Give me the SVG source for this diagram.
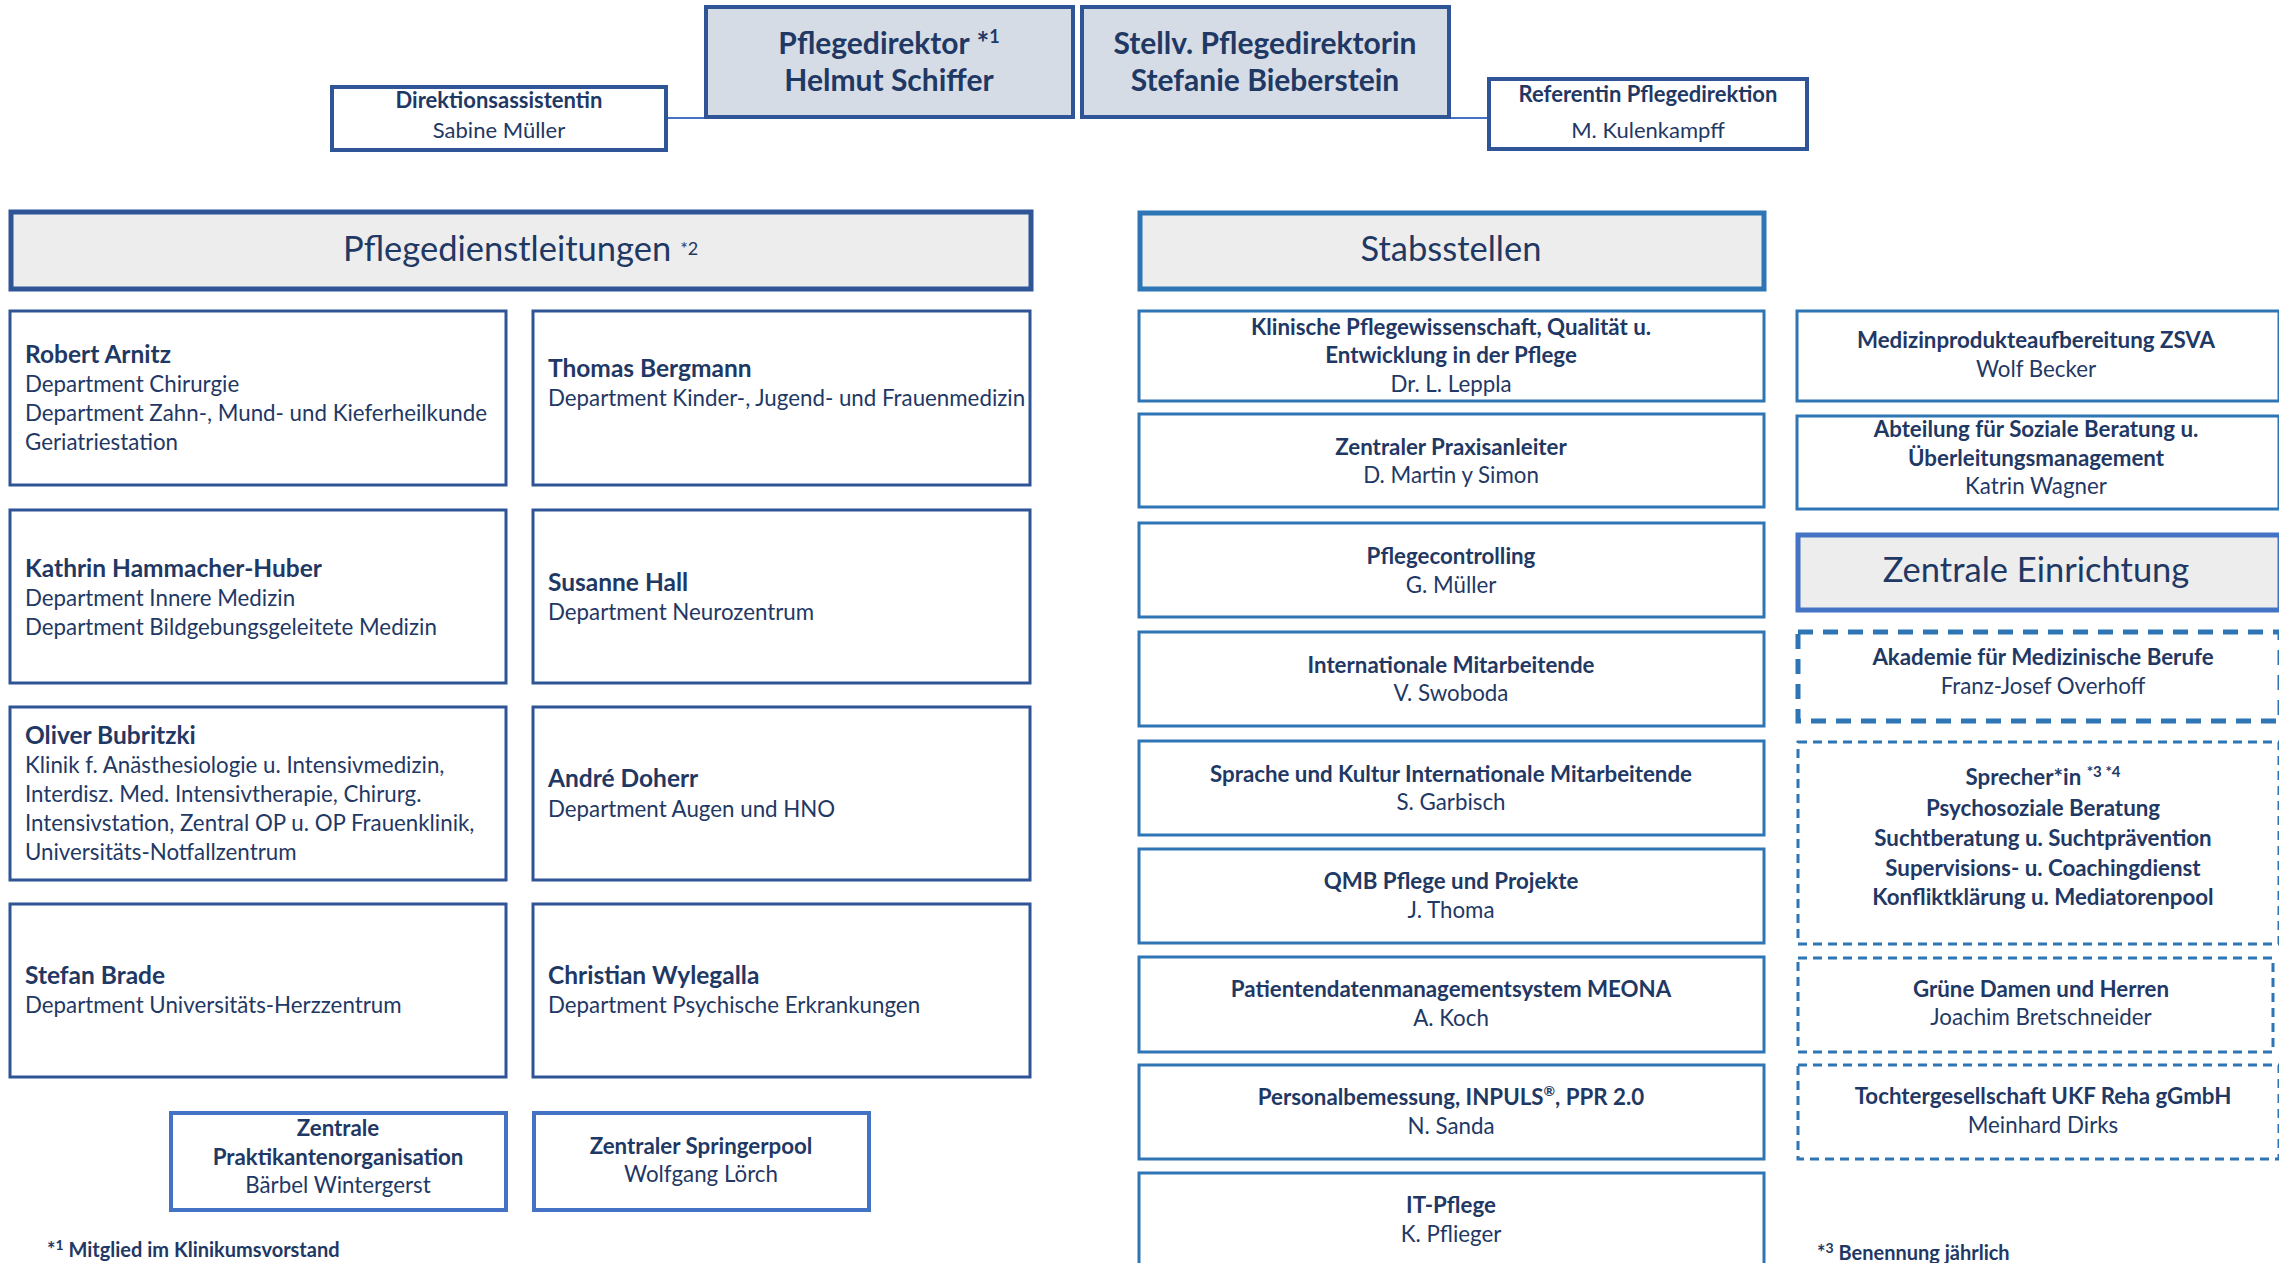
<svg xmlns="http://www.w3.org/2000/svg" width="2279" height="1263" viewBox="0 0 2279 1263">
<style>
text{font-family:Lato,"Noto Sans","Liberation Sans",sans-serif;fill:#1F3864}
.b{font-weight:700}
.t{font-size:22.3px}
.n{font-size:24.5px;font-weight:700}
.c{text-anchor:middle}
.dir{fill:#D6DCE5;stroke:#2F5597;stroke-width:4}
.side{fill:#fff;stroke:#2F5597;stroke-width:4}
.hdr{fill:#EDEDED;stroke:#2F5597;stroke-width:5}
.hdr2{fill:#EDEDED;stroke:#2E75B6;stroke-width:5}
.hdr3{fill:#EDEDED;stroke:#4472C4;stroke-width:5}
.pdl{fill:#fff;stroke:#2F5597;stroke-width:3}
.stab{fill:#fff;stroke:#2E75B6;stroke-width:3}
.bot{fill:#fff;stroke:#4472C4;stroke-width:4}
.d1{fill:#fff;stroke:#2E75B6;stroke-width:5;stroke-dasharray:15 10}
.d2{fill:#fff;stroke:#2E75B6;stroke-width:3;stroke-dasharray:9 6}
.big{font-size:30px}
.h{font-size:34.5px}
.sm{font-size:22px}
.fn{font-size:20px}
.con{stroke:#4472C4;stroke-width:2;fill:none}
</style>

<g id="connectors">
<line class="con" x1="667" y1="118" x2="705" y2="118"/>
<line class="con" x1="1450" y1="118" x2="1488" y2="118"/>
</g>

<g id="pflegedirektor">
<rect class="dir" x="706" y="7" width="367" height="110"/>
<text class="b big c" x="889" y="54">Pflegedirektor *<tspan font-size="18" dy="-11">1</tspan></text>
<text class="b big c" x="889" y="91">Helmut Schiffer</text>
</g>
<g id="stellv">
<rect class="dir" x="1082" y="7" width="367" height="110"/>
<text class="b big c" x="1265" y="54">Stellv. Pflegedirektorin</text>
<text class="b big c" x="1265" y="91">Stefanie Bieberstein</text>
</g>
<g id="direktionsassistentin">
<rect class="side" x="332" y="87" width="334" height="63"/>
<text class="b sm c" x="499" y="108">Direktionsassistentin</text>
<text class="sm c" x="499" y="138">Sabine Müller</text>
</g>
<g id="referentin">
<rect class="side" x="1489" y="79" width="318" height="70"/>
<text class="b sm c" x="1648" y="102">Referentin Pflegedirektion</text>
<text class="sm c" x="1648" y="138">M. Kulenkampff</text>
</g>

<g id="pflegedienstleitungen">
<rect class="hdr" x="11" y="212" width="1020" height="77"/>
<text class="h" x="343" y="261">Pflegedienstleitungen<tspan font-size="18" dx="9" dy="-6">*2</tspan></text>
</g>

<g id="arnitz">
<rect class="pdl" x="10" y="311" width="496" height="174"/>
<text class="t" x="25" y="363"><tspan class="n">Robert Arnitz</tspan><tspan x="25" dy="29">Department Chirurgie</tspan><tspan x="25" dy="29">Department Zahn-, Mund- und Kieferheilkunde</tspan><tspan x="25" dy="29">Geriatriestation</tspan></text>
</g>
<g id="bergmann">
<rect class="pdl" x="533" y="311" width="497" height="174"/>
<text class="t" x="548" y="377"><tspan class="n">Thomas Bergmann</tspan><tspan x="548" dy="29">Department Kinder-, Jugend- und Frauenmedizin</tspan></text>
</g>
<g id="hammacher">
<rect class="pdl" x="10" y="510" width="496" height="173"/>
<text class="t" x="25" y="577"><tspan class="n">Kathrin Hammacher-Huber</tspan><tspan x="25" dy="29">Department Innere Medizin</tspan><tspan x="25" dy="29">Department Bildgebungsgeleitete Medizin</tspan></text>
</g>
<g id="hall">
<rect class="pdl" x="533" y="510" width="497" height="173"/>
<text class="t" x="548" y="591"><tspan class="n">Susanne Hall</tspan><tspan x="548" dy="29">Department Neurozentrum</tspan></text>
</g>
<g id="bubritzki">
<rect class="pdl" x="10" y="707" width="496" height="173"/>
<text class="t" x="25" y="744"><tspan class="n">Oliver Bubritzki</tspan><tspan x="25" dy="29">Klinik f. Anästhesiologie u. Intensivmedizin,</tspan><tspan x="25" dy="29">Interdisz. Med. Intensivtherapie, Chirurg.</tspan><tspan x="25" dy="29">Intensivstation, Zentral OP u. OP Frauenklinik,</tspan><tspan x="25" dy="29">Universitäts-Notfallzentrum</tspan></text>
</g>
<g id="doherr">
<rect class="pdl" x="533" y="707" width="497" height="173"/>
<text class="t" x="548" y="787"><tspan class="n">André Doherr</tspan><tspan x="548" dy="30">Department Augen und HNO</tspan></text>
</g>
<g id="brade">
<rect class="pdl" x="10" y="904" width="496" height="173"/>
<text class="t" x="25" y="984"><tspan class="n">Stefan Brade</tspan><tspan x="25" dy="29">Department Universitäts-Herzzentrum</tspan></text>
</g>
<g id="wylegalla">
<rect class="pdl" x="533" y="904" width="497" height="173"/>
<text class="t" x="548" y="984"><tspan class="n">Christian Wylegalla</tspan><tspan x="548" dy="29">Department Psychische Erkrankungen</tspan></text>
</g>
<g id="praktikanten">
<rect class="bot" x="171" y="1113" width="335" height="97"/>
<text class="t c" x="338" y="1136"><tspan class="b">Zentrale</tspan><tspan class="b" x="338" dy="29">Praktikantenorganisation</tspan><tspan x="338" dy="28">Bärbel Wintergerst</tspan></text>
</g>
<g id="springerpool">
<rect class="bot" x="534" y="1113" width="335" height="97"/>
<text class="t c" x="701" y="1154"><tspan class="b">Zentraler Springerpool</tspan><tspan x="701" dy="28">Wolfgang Lörch</tspan></text>
</g>

<g id="stabsstellen">
<rect class="hdr2" x="1140" y="213" width="624" height="76"/>
<text class="h c" x="1451" y="261">Stabsstellen</text>
</g>
<g id="s1">
<rect class="stab" x="1139" y="311" width="625" height="90"/>
<text class="t c" x="1451" y="335"><tspan class="b">Klinische Pflegewissenschaft, Qualität u.</tspan><tspan class="b" x="1451" dy="28">Entwicklung in der Pflege</tspan><tspan x="1451" dy="29">Dr. L. Leppla</tspan></text>
</g>
<g id="s2">
<rect class="stab" x="1139" y="414" width="625" height="93"/>
<text class="t c" x="1451" y="455"><tspan class="b">Zentraler Praxisanleiter</tspan><tspan x="1451" dy="28">D. Martin y Simon</tspan></text>
</g>
<g id="s3">
<rect class="stab" x="1139" y="523" width="625" height="94"/>
<text class="t c" x="1451" y="564"><tspan class="b">Pflegecontrolling</tspan><tspan x="1451" dy="29">G. Müller</tspan></text>
</g>
<g id="s4">
<rect class="stab" x="1139" y="632" width="625" height="94"/>
<text class="t c" x="1451" y="673"><tspan class="b">Internationale Mitarbeitende</tspan><tspan x="1451" dy="28">V. Swoboda</tspan></text>
</g>
<g id="s5">
<rect class="stab" x="1139" y="741" width="625" height="94"/>
<text class="t c" x="1451" y="782"><tspan class="b">Sprache und Kultur Internationale Mitarbeitende</tspan><tspan x="1451" dy="28">S. Garbisch</tspan></text>
</g>
<g id="s6">
<rect class="stab" x="1139" y="849" width="625" height="94"/>
<text class="t c" x="1451" y="889"><tspan class="b">QMB Pflege und Projekte</tspan><tspan x="1451" dy="29">J. Thoma</tspan></text>
</g>
<g id="s7">
<rect class="stab" x="1139" y="957" width="625" height="95"/>
<text class="t c" x="1451" y="997"><tspan class="b">Patientendatenmanagementsystem MEONA</tspan><tspan x="1451" dy="29">A. Koch</tspan></text>
</g>
<g id="s8">
<rect class="stab" x="1139" y="1065" width="625" height="94"/>
<text class="t c" x="1451" y="1105"><tspan class="b">Personalbemessung, INPULS<tspan font-size="14" dy="-9">®</tspan><tspan dy="9">, PPR 2.0</tspan></tspan><tspan x="1451" dy="29">N. Sanda</tspan></text>
</g>
<g id="s9">
<rect class="stab" x="1139" y="1173" width="625" height="120"/>
<text class="t c" x="1451" y="1213"><tspan class="b">IT-Pflege</tspan><tspan x="1451" dy="29">K. Pflieger</tspan></text>
</g>

<g id="medizinprodukte">
<rect class="stab" x="1797" y="311" width="482" height="90"/>
<text class="t c" x="2036" y="348"><tspan class="b">Medizinprodukteaufbereitung ZSVA</tspan><tspan x="2036" dy="29">Wolf Becker</tspan></text>
</g>
<g id="sozialberatung">
<rect class="stab" x="1797" y="416" width="482" height="93"/>
<text class="t c" x="2036" y="437"><tspan class="b">Abteilung für Soziale Beratung u.</tspan><tspan class="b" x="2036" dy="29">Überleitungsmanagement</tspan><tspan x="2036" dy="28">Katrin Wagner</tspan></text>
</g>
<g id="zentrale-einrichtung">
<rect class="hdr3" x="1798" y="535" width="482" height="75"/>
<text class="h c" x="2036" y="582">Zentrale Einrichtung</text>
</g>
<g id="akademie">
<rect class="d1" x="1798" y="632" width="482" height="89"/>
<text class="t c" x="2043" y="665"><tspan class="b">Akademie für Medizinische Berufe</tspan><tspan x="2043" dy="29">Franz-Josef Overhoff</tspan></text>
</g>
<g id="sprecher">
<rect class="d2" x="1798" y="742" width="481" height="202"/>
<text class="t c" x="2043" y="785"><tspan class="b">Sprecher*in <tspan font-size="15" dy="-8">*3 *4</tspan></tspan><tspan class="b" x="2043" dy="39">Psychosoziale Beratung</tspan><tspan class="b" x="2043" dy="30">Suchtberatung u. Suchtprävention</tspan><tspan class="b" x="2043" dy="30">Supervisions- u. Coachingdienst</tspan><tspan class="b" x="2043" dy="29">Konfliktklärung u. Mediatorenpool</tspan></text>
</g>
<g id="gruene-damen">
<rect class="d2" x="1798" y="958" width="475" height="94"/>
<text class="t c" x="2041" y="997"><tspan class="b">Grüne Damen und Herren</tspan><tspan x="2041" dy="28">Joachim Bretschneider</tspan></text>
</g>
<g id="tochter">
<rect class="d2" x="1798" y="1065" width="481" height="94"/>
<text class="t c" x="2043" y="1104"><tspan class="b">Tochtergesellschaft UKF Reha gGmbH</tspan><tspan x="2043" dy="29">Meinhard Dirks</tspan></text>
</g>

<g id="footnotes">
<text class="b fn" x="47" y="1257">*<tspan font-size="14" dy="-7">1</tspan><tspan dy="7"> Mitglied im Klinikumsvorstand</tspan></text>
<text class="b fn" x="1817" y="1260">*<tspan font-size="14" dy="-7">3</tspan><tspan dy="7"> Benennung jährlich</tspan></text>
</g>
</svg>
